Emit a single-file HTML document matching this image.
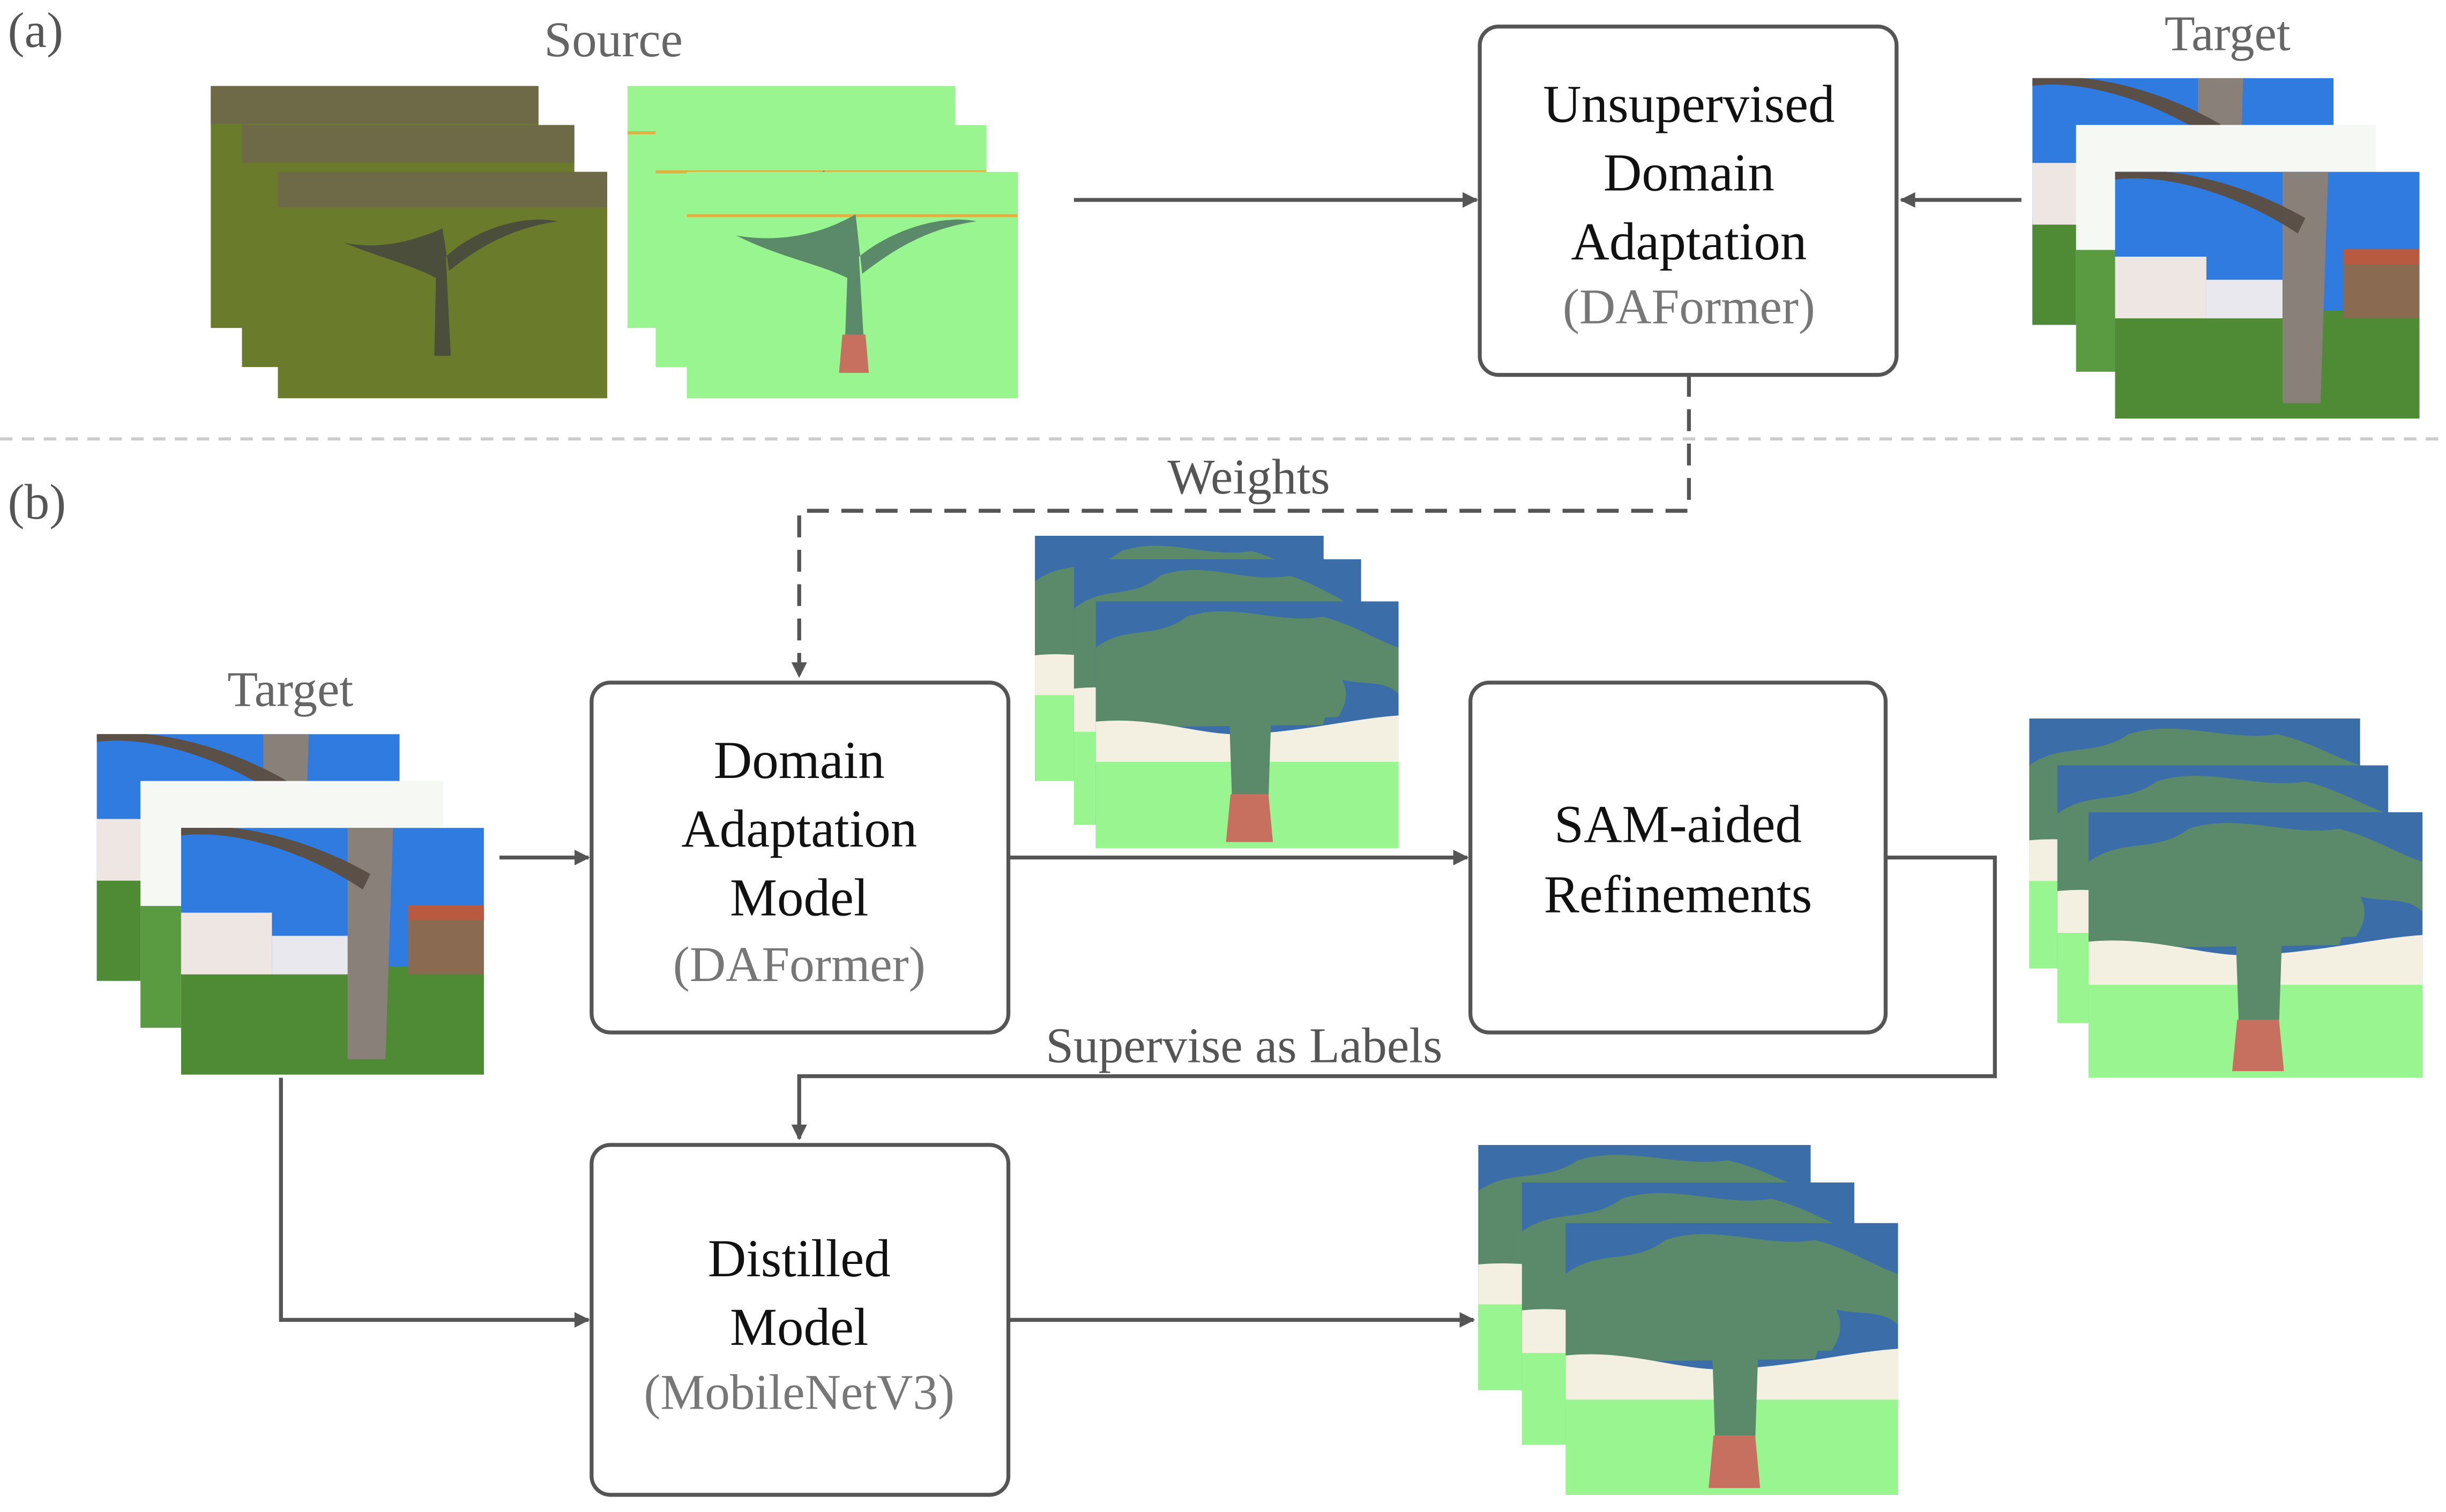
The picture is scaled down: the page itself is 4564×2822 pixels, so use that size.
<!DOCTYPE html>
<html><head><meta charset="utf-8"><style>
html,body{margin:0;padding:0;background:#fff;}
svg{display:block;}
text{font-family:"Liberation Serif",serif;}
</style></head><body>
<svg width="4564" height="2822" viewBox="0 0 1567 968" preserveAspectRatio="none" xmlns="http://www.w3.org/2000/svg">
<defs>
<marker id="ar" markerWidth="10" markerHeight="10" refX="9" refY="5" orient="auto" markerUnits="userSpaceOnUse"><path d="M0,0 L10,5 L0,10 Z" fill="#555"/></marker>
<symbol id="seg" viewBox="0 0 200 160" preserveAspectRatio="none">
<rect width="200" height="160" fill="#3b6ea8"/>
<path d="M0,30 C20,15 40,25 60,10 C90,0 120,15 150,10 C170,15 185,25 200,30 L200,60 C190,50 175,55 160,50 L150,80 L0,82 Z" fill="#5b8a6a"/>
<path d="M40,30 C70,20 110,25 150,35 C165,50 170,60 160,75 L50,78 Z" fill="#5b8a6a"/>
<path d="M0,78 C40,74 70,88 100,86 C140,84 170,76 200,74 L200,108 L0,106 Z" fill="#f3f0e1"/>
<rect y="104" width="200" height="56" fill="#98f590"/>
<path d="M88,70 L116,70 L114,130 L90,130 Z" fill="#5b8a6a"/>
<path d="M89,125 L114,125 L117,156 L86,156 Z" fill="#c87060"/>
</symbol>
<symbol id="photo" viewBox="0 0 200 160" preserveAspectRatio="none">
<rect width="200" height="160" fill="#2f7be0"/>
<rect y="90" width="200" height="70" fill="#4f8a34"/>
<rect x="0" y="55" width="60" height="40" fill="#eee6e2"/>
<rect x="60" y="70" width="60" height="25" fill="#e8e8ee"/>
<rect x="150" y="55" width="50" height="40" fill="#8a6a50"/>
<rect x="150" y="50" width="50" height="10" fill="#b85a40"/>
<path d="M110,0 L140,0 L135,150 L110,150 Z" fill="#8a807a"/>
<path d="M0,5 C40,0 90,20 120,40 L125,30 C90,10 40,-5 0,0Z" fill="#5a5048"/>
</symbol>
<symbol id="src" viewBox="0 0 200 160" preserveAspectRatio="none">
<rect width="200" height="160" fill="#6b7b2c"/>
<rect width="200" height="25" fill="#6e6a48"/>
<path d="M95,130 L105,130 L102,60 C120,40 150,30 170,35 C140,40 120,55 104,70 L100,40 C80,50 60,55 40,50 C60,60 80,65 96,75 Z" fill="#4a4e3a"/>
</symbol>
<symbol id="lab" viewBox="0 0 200 160" preserveAspectRatio="none">
<rect width="200" height="160" fill="#98f590"/>
<rect y="30" width="200" height="2" fill="#e0b040"/>
<path d="M95,140 L108,140 L104,60 C125,40 155,30 175,35 C145,40 125,55 106,72 L102,30 C80,45 55,50 30,45 C55,60 80,65 97,75 Z" fill="#5b8a6a"/>
<path d="M94,115 L108,115 L110,142 L92,142 Z" fill="#c87060"/>
</symbol>
</defs>

<text x="5" y="30" font-size="32" fill="#555">(a)</text>
<text x="5" y="332" font-size="32" fill="#555">(b)</text>

<text x="393" y="36" font-size="32" fill="#666" text-anchor="middle">Source</text>
<use href="#src" x="135" y="55" width="210" height="155"/>
<use href="#src" x="155" y="80" width="213" height="155"/>
<use href="#src" x="178" y="110" width="211" height="145"/>
<use href="#lab" x="402" y="55" width="210" height="155"/>
<use href="#lab" x="420" y="80" width="212" height="155"/>
<use href="#lab" x="440" y="110" width="212" height="145"/>

<line x1="688" y1="128" x2="946" y2="128" stroke="#555" stroke-width="2.5" marker-end="url(#ar)"/>
<rect x="948" y="17" width="267" height="223" rx="12" fill="#fff" stroke="#555" stroke-width="2.5"/>
<g font-size="34" text-anchor="middle" fill="#111">
<text x="1082" y="78">Unsupervised</text>
<text x="1082" y="122">Domain</text>
<text x="1082" y="166">Adaptation</text>
<text x="1082" y="207" fill="#777" font-size="32">(DAFormer)</text>
</g>

<text x="1427" y="32" font-size="32" fill="#666" text-anchor="middle">Target</text>
<use href="#photo" x="1302" y="50" width="193" height="158"/>
<rect x="1330" y="80" width="192" height="158" fill="#f6f8f4"/>
<rect x="1330" y="160" width="30" height="78" fill="#5a9a40"/>
<use href="#photo" x="1355" y="110" width="195" height="158"/>
<line x1="1295" y1="128" x2="1218" y2="128" stroke="#555" stroke-width="2.5" marker-end="url(#ar)"/>

<line x1="0" y1="281" x2="1567" y2="281" stroke="#ccc" stroke-width="2" stroke-dasharray="8,6"/>

<path d="M1082,240 L1082,327 L512,327 L512,433" fill="none" stroke="#555" stroke-width="2.5" stroke-dasharray="14,8" marker-end="url(#ar)"/>
<text x="800" y="316" font-size="32" fill="#555" text-anchor="middle">Weights</text>

<text x="186" y="452" font-size="32" fill="#666" text-anchor="middle">Target</text>
<use href="#photo" x="62" y="470" width="194" height="158"/>
<rect x="90" y="500" width="194" height="158" fill="#f6f8f4"/>
<rect x="90" y="580" width="26" height="78" fill="#5a9a40"/>
<use href="#photo" x="116" y="530" width="194" height="158"/>

<line x1="320" y1="549" x2="377" y2="549" stroke="#555" stroke-width="2.5" marker-end="url(#ar)"/>
<rect x="379" y="437" width="267" height="224" rx="12" fill="#fff" stroke="#555" stroke-width="2.5"/>
<g font-size="34" text-anchor="middle" fill="#111">
<text x="512" y="498">Domain</text>
<text x="512" y="542">Adaptation</text>
<text x="512" y="586">Model</text>
<text x="512" y="628" fill="#777" font-size="32">(DAFormer)</text>
</g>

<use href="#seg" x="663" y="343" width="185" height="157"/>
<use href="#seg" x="688" y="358" width="184" height="170"/>
<use href="#seg" x="702" y="385" width="194" height="158"/>

<line x1="646" y1="549" x2="940" y2="549" stroke="#555" stroke-width="2.5" marker-end="url(#ar)"/>
<rect x="942" y="437" width="266" height="224" rx="12" fill="#fff" stroke="#555" stroke-width="2.5"/>
<g font-size="34" text-anchor="middle" fill="#111">
<text x="1075" y="539">SAM-aided</text>
<text x="1075" y="584">Refinements</text>
</g>

<path d="M1208,549 L1278,549 L1278,689 L512,689 L512,729" fill="none" stroke="#555" stroke-width="2.5" marker-end="url(#ar)"/>
<text x="797" y="680" font-size="32" fill="#555" text-anchor="middle">Supervise as Labels</text>

<use href="#seg" x="1300" y="460" width="212" height="160"/>
<use href="#seg" x="1318" y="490" width="212" height="165"/>
<use href="#seg" x="1338" y="520" width="214" height="170"/>

<path d="M180,690 L180,845 L377,845" fill="none" stroke="#555" stroke-width="2.5" marker-end="url(#ar)"/>
<rect x="379" y="733" width="267" height="224" rx="12" fill="#fff" stroke="#555" stroke-width="2.5"/>
<g font-size="34" text-anchor="middle" fill="#111">
<text x="512" y="817">Distilled</text>
<text x="512" y="861">Model</text>
<text x="512" y="902" fill="#777" font-size="32">(MobileNetV3)</text>
</g>

<line x1="646" y1="845" x2="944" y2="845" stroke="#555" stroke-width="2.5" marker-end="url(#ar)"/>
<use href="#seg" x="947" y="733" width="213" height="157"/>
<use href="#seg" x="975" y="757" width="213" height="168"/>
<use href="#seg" x="1003" y="783" width="213" height="174"/>
</svg>
</body></html>
